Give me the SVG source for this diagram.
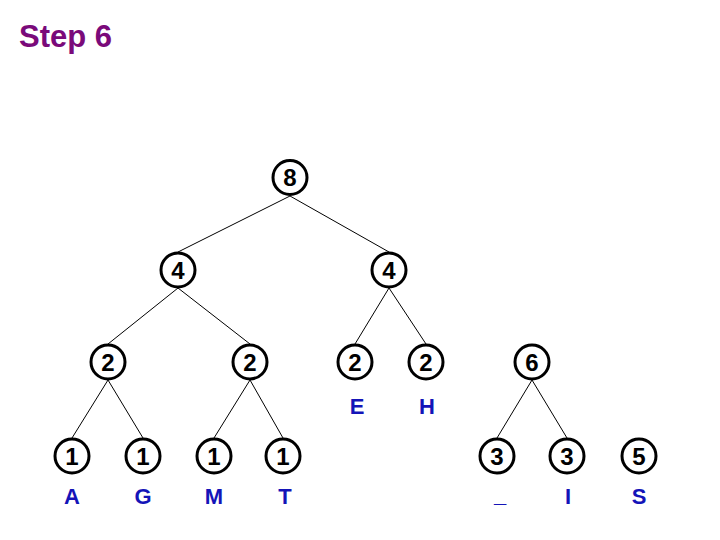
<svg xmlns="http://www.w3.org/2000/svg" width="720" height="540" viewBox="0 0 720 540">
<style>
.n circle{fill:#fff;stroke:#000;stroke-width:3}
.n text{font-family:"Liberation Sans",Arial,sans-serif;font-weight:bold;font-size:24px;text-anchor:middle;fill:#000}
.lbl{font-family:"Liberation Sans",Arial,sans-serif;font-weight:bold;font-size:22px;text-anchor:middle;fill:#1414B8}
.e line{stroke:#000;stroke-width:1}
</style>
<rect width="720" height="540" fill="#fff"/>
<text x="19" y="47" font-family="Liberation Sans,Arial,sans-serif" font-weight="bold" font-size="31" fill="#7A0A7A">Step 6</text>
<g id="edges" class="e">
<line x1="290" y1="196" x2="178" y2="252"/>
<line x1="290" y1="196" x2="389" y2="252"/>
<line x1="178" y1="288" x2="108" y2="344"/>
<line x1="178" y1="288" x2="250" y2="344"/>
<line x1="389" y1="288" x2="355" y2="344"/>
<line x1="389" y1="288" x2="426" y2="344"/>
<line x1="108" y1="380" x2="72" y2="438"/>
<line x1="108" y1="380" x2="143" y2="438"/>
<line x1="250" y1="380" x2="214" y2="438"/>
<line x1="250" y1="380" x2="283" y2="438"/>
<line x1="532" y1="380" x2="497" y2="438"/>
<line x1="532" y1="380" x2="567" y2="438"/>
</g>
<g id="n8" class="n"><circle cx="290" cy="177.5" r="17"/><text x="290" y="186">8</text></g>
<g id="n4a" class="n"><circle cx="178" cy="270" r="17"/><text x="178" y="279">4</text></g>
<g id="n4b" class="n"><circle cx="389" cy="270" r="17"/><text x="389" y="279">4</text></g>
<g id="n2a" class="n"><circle cx="108" cy="362" r="17"/><text x="108" y="371">2</text></g>
<g id="n2b" class="n"><circle cx="250" cy="362" r="17"/><text x="250" y="371">2</text></g>
<g id="nE" class="n"><circle cx="355" cy="362" r="17"/><text x="355" y="371">2</text></g>
<g id="nH" class="n"><circle cx="426" cy="362" r="17"/><text x="426" y="371">2</text></g>
<g id="n6" class="n"><circle cx="532" cy="362" r="17"/><text x="532" y="371">6</text></g>
<g id="nA" class="n"><circle cx="72" cy="456" r="17"/><text x="72" y="465">1</text></g>
<g id="nG" class="n"><circle cx="143" cy="456" r="17"/><text x="143" y="465">1</text></g>
<g id="nM" class="n"><circle cx="214" cy="456" r="17"/><text x="214" y="465">1</text></g>
<g id="nT" class="n"><circle cx="283" cy="456" r="17"/><text x="283" y="465">1</text></g>
<g id="nU" class="n"><circle cx="497" cy="456" r="17"/><text x="497" y="465">3</text></g>
<g id="nI" class="n"><circle cx="567" cy="456" r="17"/><text x="567" y="465">3</text></g>
<g id="nS" class="n"><circle cx="639" cy="456" r="17"/><text x="639" y="465">5</text></g>
<g id="labels">
<text class="lbl" x="72" y="504">A</text>
<text class="lbl" x="143" y="504">G</text>
<text class="lbl" x="214" y="504">M</text>
<text class="lbl" x="285" y="504">T</text>
<text class="lbl" x="357" y="414">E</text>
<text class="lbl" x="427" y="414">H</text>
<text class="lbl" x="500" y="502" font-size="25">_</text>
<text class="lbl" x="568" y="504">I</text>
<text class="lbl" x="639" y="504">S</text>
</g>
</svg>
